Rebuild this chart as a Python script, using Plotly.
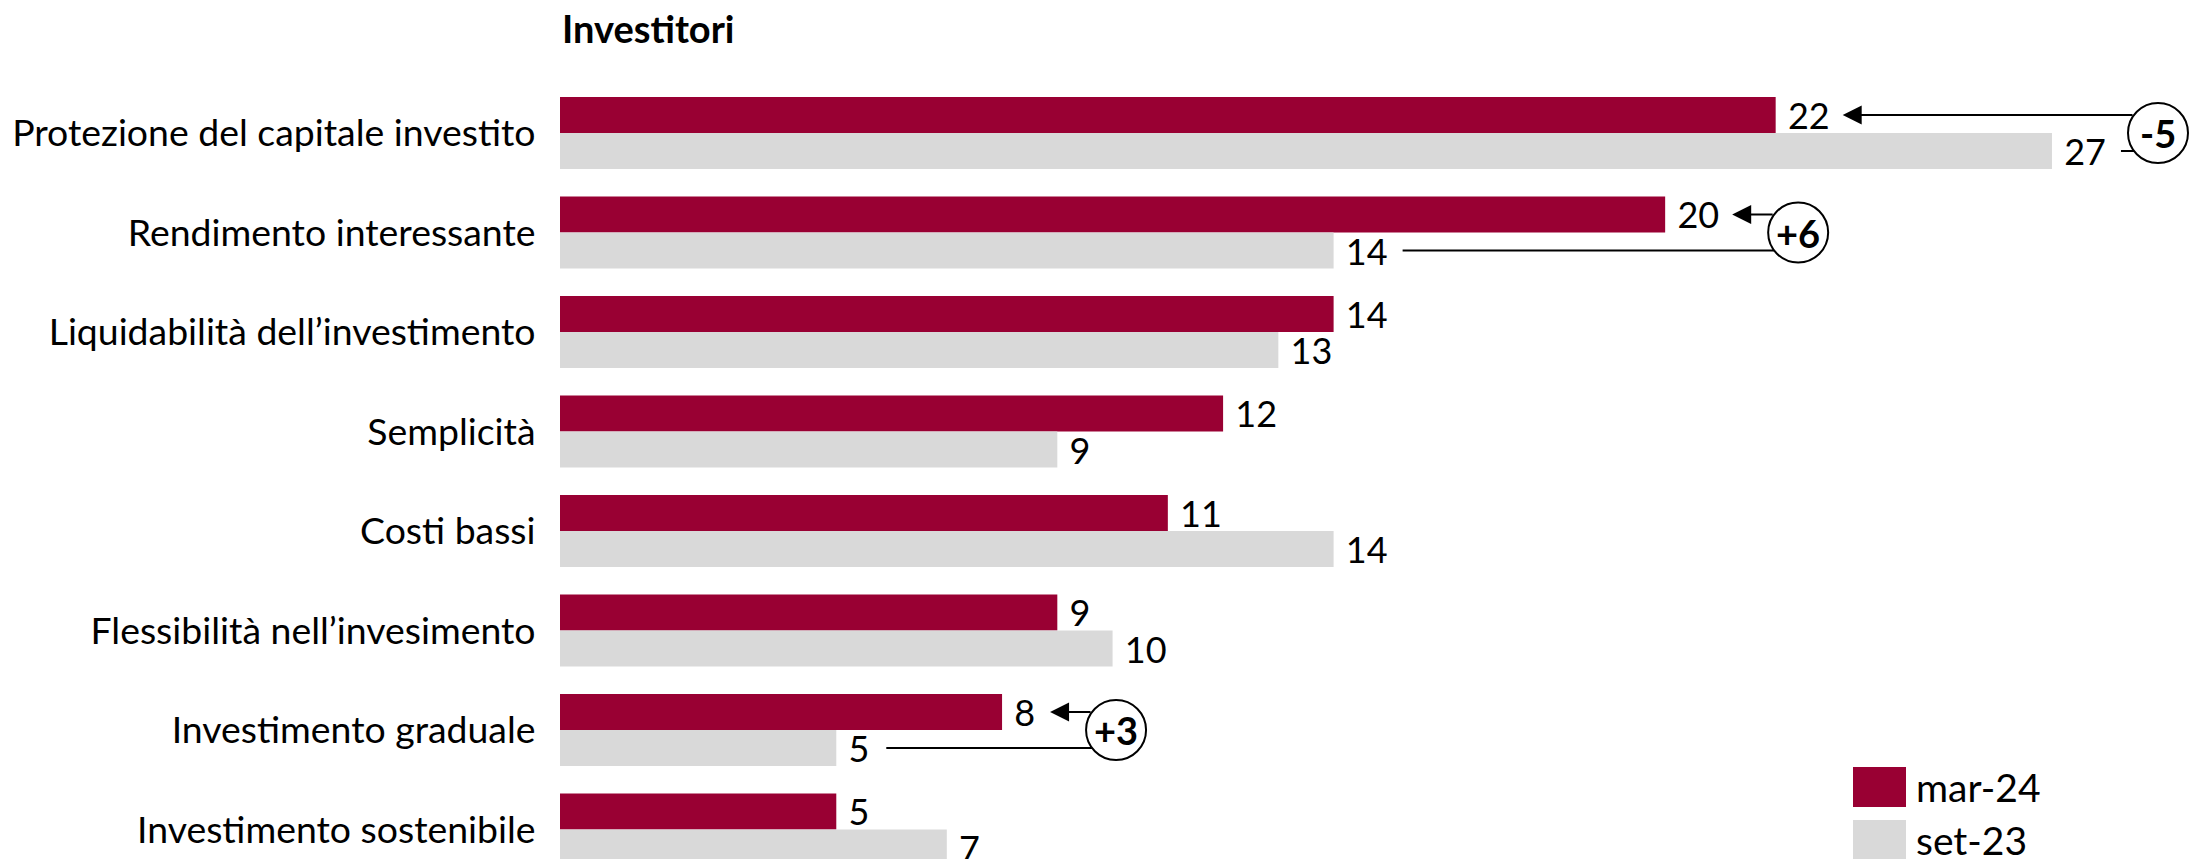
import math
import plotly.graph_objects as go

# ---- data -------------------------------------------------------------
categories = [
    "Protezione del capitale investito",
    "Rendimento interessante",
    "Liquidabilità dell’investimento",
    "Semplicità",
    "Costi bassi",
    "Flessibilità nell’invesimento",
    "Investimento graduale",
    "Investimento sostenibile",
]
mar24 = [22, 20, 14, 12, 11, 9, 8, 5]
set23 = [27, 14, 13, 9, 14, 10, 5, 7]
series_names = ["mar-24", "set-23"]
title_text = "Investitori"
# categories that get a change badge (mar-24 minus set-23)
highlighted = [
    "Protezione del capitale investito",
    "Rendimento interessante",
    "Investimento graduale",
]

# ---- styling / geometry ----------------------------------------------
RED = "#990033"
GREY = "#d9d9d9"
FONT = "Lato"
FS = 36          # value labels
FS_CAT = 37.4    # category labels
FS_LEG = 39
FS_TITLE = 38
FS_BADGE = 38

W, H = 2189, 859
ML, MT = 560, 60
PLOT_W = W - ML
PLOT_H = H - MT
X_MAX = 29.48
PX_X = PLOT_W / X_MAX          # pixels per unit on the value axis
ROW_PX = 99.5                  # pixels per category
FIRST_ROW_PX = 73              # first category centre below the plot top
Y_TOP = -FIRST_ROW_PX / ROW_PX
Y_BOTTOM = (PLOT_H - FIRST_ROW_PX) / ROW_PX
BARGAP = 0.276
HALF = (1 - BARGAP) / 4        # offset of each bar centre from the category centre

fig = go.Figure()
for name, vals, col in zip(series_names, [mar24, set23], [RED, GREY]):
    fig.add_trace(go.Bar(
        y=categories, x=vals, orientation="h", name=name,
        marker=dict(color=col, line_width=0),
        texttemplate="\u00a0%{x}", textposition="outside",
        textfont=dict(family=FONT, size=FS, color="black"),
        constraintext="none", cliponaxis=False, showlegend=False,
        hoverinfo="skip",
    ))


def label_end_px(v):
    """Right edge of an outside value label, in pixels from the value origin."""
    return v * PX_X + 11 + 19 * len(str(v))


# ---- change badges -----------------------------------------------------
R = 30
dy = HALF * ROW_PX
edge = math.sqrt(R * R - dy * dy)
for cat in highlighted:
    i = categories.index(cat)
    a, b = mar24[i], set23[i]
    diff = a - b
    cx_px = min(max(label_end_px(a), label_end_px(b)) + 84, PLOT_W - R - 1)
    cx = cx_px / PX_X
    # connector from the set-23 label to the badge
    fig.add_shape(type="line", xref="x", yref="y",
                  x0=(label_end_px(b) + 20) / PX_X, x1=(cx_px - edge) / PX_X,
                  y0=i + HALF, y1=i + HALF,
                  line=dict(color="black", width=2))
    # arrow from the badge to the mar-24 label
    fig.add_annotation(xref="x", yref="y", axref="x", ayref="y",
                       x=(label_end_px(a) + 18) / PX_X, y=i - HALF,
                       ax=(cx_px - edge) / PX_X, ay=i - HALF,
                       text="", showarrow=True, arrowhead=2, arrowsize=1.9,
                       arrowwidth=2, arrowcolor="black")
    fig.add_shape(type="circle", xref="x", yref="y",
                  xsizemode="pixel", ysizemode="pixel",
                  xanchor=cx, yanchor=i, x0=-R, x1=R, y0=-R, y1=R,
                  line=dict(color="black", width=2), fillcolor="white")
    fig.add_annotation(xref="x", yref="y", x=cx, y=i,
                       text=f"<b>{diff:+d}</b>", showarrow=False,
                       font=dict(family=FONT, size=FS_BADGE, color="black"))


# ---- legend (large swatches) -------------------------------------------
def px_to_paper_x(px):
    return (px - ML) / PLOT_W


def px_to_paper_y(py):
    return (H - py) / PLOT_H


for k, (name, col) in enumerate(zip(series_names, [RED, GREY])):
    top = 767 + k * 53
    fig.add_shape(type="rect", xref="paper", yref="paper",
                  x0=px_to_paper_x(1853), x1=px_to_paper_x(1906),
                  y0=px_to_paper_y(top + 40), y1=px_to_paper_y(top),
                  fillcolor=col, line_width=0)
    fig.add_annotation(xref="paper", yref="paper",
                       x=px_to_paper_x(1914), y=px_to_paper_y(top + 20),
                       xanchor="left", yanchor="middle", text=name,
                       showarrow=False,
                       font=dict(family=FONT, size=FS_LEG, color="black"))

# ---- title ----------------------------------------------------------------
fig.add_annotation(xref="paper", yref="paper", x=0, y=1,
                   xanchor="left", yanchor="bottom", yshift=7,
                   text=f"<b>{title_text}</b>", showarrow=False,
                   font=dict(family=FONT, size=FS_TITLE, color="black"))

fig.update_layout(
    width=W, height=H,
    margin=dict(l=ML, r=0, t=MT, b=0, pad=0),
    barmode="group", bargap=BARGAP, bargroupgap=0,
    plot_bgcolor="white", paper_bgcolor="white",
    font=dict(family=FONT, size=FS, color="black"),
    xaxis=dict(visible=False, range=[0, X_MAX], fixedrange=True),
    yaxis=dict(type="category", range=[Y_BOTTOM, Y_TOP],
               showgrid=False, showline=False, zeroline=False,
               ticks="outside", ticklen=16, tickcolor="rgba(0,0,0,0)",
               tickfont=dict(family=FONT, size=FS_CAT, color="black"),
               fixedrange=True),
)

fig.write_html("out.html")
